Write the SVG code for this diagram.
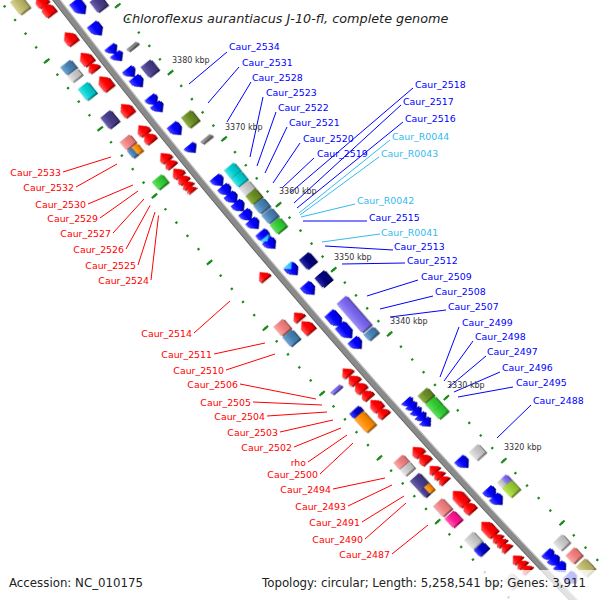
<svg xmlns="http://www.w3.org/2000/svg" width="600" height="600" viewBox="0 0 600 600">
<style>
text{font-family:"DejaVu Sans","Liberation Sans",sans-serif}
.lr{font-size:9.4px;fill:#f00;text-anchor:end}
.lb{font-size:9.4px;fill:#00f}
.lc{font-size:9.4px;fill:#33bbee}
.kb{font-size:8px;fill:#333}
.cr{stroke:#f00;stroke-width:1;fill:none}
.cb{stroke:#00f;stroke-width:1;fill:none}
.cc{stroke:#33bbee;stroke-width:1;fill:none}
.r{fill:url(#gR)}.b{fill:url(#gB)}.c{fill:url(#gC)}
.kh{fill:url(#gKH)}.ds{fill:url(#gDS)}.sb{fill:url(#gSB)}.lg{fill:url(#gLG)}.gt{fill:url(#gGT)}
.dt{fill:url(#gDT)}.od{fill:url(#gOD)}.lc2{fill:url(#gLC)}.or{fill:url(#gOR)}.lm{fill:url(#gLM)}
.nv{fill:url(#gNV)}.ms{fill:url(#gMS)}.yg{fill:url(#gYG)}.dp{fill:url(#gDP)}.mb{fill:url(#gMB)}
.tk{fill:none;stroke:#1e8b1e}
.fx{filter:url(#ext)}
</style>
<defs>
<filter id="ext" x="-5%" y="-60%" width="110%" height="220%" color-interpolation-filters="sRGB">
<feColorMatrix in="SourceGraphic" type="matrix" values="0.62 0 0 0 0 0 0.62 0 0 0 0 0 0.62 0 0 0 0 0 1 0" result="d"/>
<feOffset in="d" dx="-1.8" dy="0.5" result="o"/>
<feMerge><feMergeNode in="o"/><feMergeNode in="SourceGraphic"/></feMerge>
</filter>
<linearGradient id="gR" x1="0" y1="0" x2="0" y2="1"><stop offset="0" stop-color="#ff5a5a"/><stop offset=".5" stop-color="#ff0000"/><stop offset="1" stop-color="#e00000"/></linearGradient>
<linearGradient id="gB" x1="0" y1="0" x2="0" y2="1"><stop offset="0" stop-color="#4646ff"/><stop offset=".5" stop-color="#0000ff"/><stop offset="1" stop-color="#0000d8"/></linearGradient>
<linearGradient id="gC" x1="0" y1="0" x2="0" y2="1"><stop offset="0" stop-color="#80e0ff"/><stop offset=".5" stop-color="#33ccff"/><stop offset="1" stop-color="#22b0e0"/></linearGradient>
<linearGradient id="gKH" x1="0" y1="0" x2="0" y2="1"><stop offset="0" stop-color="#d8d296"/><stop offset=".5" stop-color="#bdb76b"/><stop offset="1" stop-color="#a8a25c"/></linearGradient>
<linearGradient id="gDS" x1="0" y1="0" x2="0" y2="1"><stop offset="0" stop-color="#6a60aa"/><stop offset=".5" stop-color="#483d8b"/><stop offset="1" stop-color="#3c3275"/></linearGradient>
<linearGradient id="gSB" x1="0" y1="0" x2="0" y2="1"><stop offset="0" stop-color="#74a4d0"/><stop offset=".5" stop-color="#4682b4"/><stop offset="1" stop-color="#3b6f9a"/></linearGradient>
<linearGradient id="gLG" x1="0" y1="0" x2="0" y2="1"><stop offset="0" stop-color="#e4e4e4"/><stop offset=".5" stop-color="#c8c8c8"/><stop offset="1" stop-color="#b4b4b4"/></linearGradient>
<linearGradient id="gGT" x1="0" y1="0" x2="0" y2="1"><stop offset="0" stop-color="#a0a0a0"/><stop offset=".5" stop-color="#888888"/><stop offset="1" stop-color="#777777"/></linearGradient>
<linearGradient id="gDT" x1="0" y1="0" x2="0" y2="1"><stop offset="0" stop-color="#50e2e4"/><stop offset=".5" stop-color="#00ced1"/><stop offset="1" stop-color="#00b4b7"/></linearGradient>
<linearGradient id="gOD" x1="0" y1="0" x2="0" y2="1"><stop offset="0" stop-color="#8dae46"/><stop offset=".5" stop-color="#6b8e23"/><stop offset="1" stop-color="#5b7a1e"/></linearGradient>
<linearGradient id="gLC" x1="0" y1="0" x2="0" y2="1"><stop offset="0" stop-color="#f6aaaa"/><stop offset=".5" stop-color="#f08080"/><stop offset="1" stop-color="#dc7070"/></linearGradient>
<linearGradient id="gOR" x1="0" y1="0" x2="0" y2="1"><stop offset="0" stop-color="#ffaa48"/><stop offset=".5" stop-color="#ff8c00"/><stop offset="1" stop-color="#e07a00"/></linearGradient>
<linearGradient id="gLM" x1="0" y1="0" x2="0" y2="1"><stop offset="0" stop-color="#66dc66"/><stop offset=".5" stop-color="#32cd32"/><stop offset="1" stop-color="#2ab22a"/></linearGradient>
<linearGradient id="gNV" x1="0" y1="0" x2="0" y2="1"><stop offset="0" stop-color="#2a2aa0"/><stop offset=".5" stop-color="#000080"/><stop offset="1" stop-color="#00006c"/></linearGradient>
<linearGradient id="gMS" x1="0" y1="0" x2="0" y2="1"><stop offset="0" stop-color="#9c8ef2"/><stop offset=".5" stop-color="#7b68ee"/><stop offset="1" stop-color="#6a58d6"/></linearGradient>
<linearGradient id="gYG" x1="0" y1="0" x2="0" y2="1"><stop offset="0" stop-color="#bce564"/><stop offset=".5" stop-color="#9acd32"/><stop offset="1" stop-color="#86b42a"/></linearGradient>
<linearGradient id="gDP" x1="0" y1="0" x2="0" y2="1"><stop offset="0" stop-color="#ff60b0"/><stop offset=".5" stop-color="#ff1493"/><stop offset="1" stop-color="#e0107f"/></linearGradient>
<linearGradient id="gMB" x1="0" y1="0" x2="0" y2="1"><stop offset="0" stop-color="#3c3cff"/><stop offset=".5" stop-color="#0000cd"/><stop offset="1" stop-color="#0000b0"/></linearGradient>
<path id="a4" d="M-2.5,-6L2.5,0L-2.5,6Z"/>
<path id="a5" d="M-3,-6L3,0L-3,6Z"/>
<path id="a6" d="M-3.75,-6H-2.25L3.75,0L-2.25,6H-3.75Z"/>
<path id="a7" d="M-4.25,-6H-1.75L4.25,0L-1.75,6H-4.25Z"/>
<path id="a8" d="M-4.75,-6H-1.25L4.75,0L-1.25,6H-4.75Z"/>
<path id="a9" d="M-5.25,-6H-.75L5.25,0L-.75,6H-5.25Z"/>
<path id="a10" d="M-5.75,-6H-.25L5.75,0L-.25,6H-5.75Z"/>
<path id="a11" d="M-6.25,-6H.25L6.25,0L.25,6H-6.25Z"/>
<path id="a12" d="M-6.75,-6H.75L6.75,0L.75,6H-6.75Z"/>
<path id="a14" d="M-7.75,-6H1.75L7.75,0L1.75,6H-7.75Z"/>
<path id="a15" d="M-8.25,-6H2.25L8.25,0L2.25,6H-8.25Z"/>
<path id="a16" d="M-8.75,-6H2.75L8.75,0L2.75,6H-8.75Z"/>
</defs>
<rect width="600" height="600" fill="#fff"/>
<g id="map" transform="translate(5747,-4380) rotate(229.34)">
<g id="ticks">
<path class="tk" d="M426.08,-7123.27A7136,7136 0 0 0 -426.08,-7123.27" stroke-width="2.4" stroke-dasharray="2.2 14.853" stroke-dashoffset="1.1"/>
<path class="tk" d="M426.08,-7123.27A7136,7136 0 0 0 -426.08,-7123.27" stroke-width="7" stroke-dasharray="2.2 83.065" stroke-dashoffset="1.1"/>
<path class="tk" d="M431.45,-7213.11A7226,7226 0 0 0 -431.45,-7213.11" stroke-width="2.4" stroke-dasharray="2.2 15.068" stroke-dashoffset="1.1"/>
<path class="tk" d="M431.45,-7213.11A7226,7226 0 0 0 -431.45,-7213.11" stroke-width="7" stroke-dasharray="2.2 84.140" stroke-dashoffset="1.1"/>
</g>
<g id="backbone" fill="none">
<path d="M428.76,-7168.19A7181,7181 0 0 0 -428.76,-7168.19" stroke="#8a8a8a" stroke-width="6"/>
<path d="M428.94,-7171.18A7184,7184 0 0 0 -428.94,-7171.18" stroke="#6a6a6a" stroke-width="1"/>
<path d="M428.58,-7165.19A7178,7178 0 0 0 -428.58,-7165.19" stroke="#c4c4c4" stroke-width="1.2"/>
</g>
<g id="fwd-cds" class="fx">
<use href="#a10" class="r" transform="rotate(3.151)translate(0,-7194)"/>
<use href="#a12" class="r" transform="rotate(3.064)translate(0,-7194)"/>
<use href="#a12" class="r" transform="rotate(2.776)translate(0,-7194)"/>
<use href="#a12" class="r" transform="rotate(2.569)translate(0,-7194)"/>
<use href="#a7" class="r" transform="rotate(2.481)translate(0,-7194)"/>
<use href="#a14" class="r" transform="rotate(2.322)translate(0,-7194)"/>
<use href="#a12" class="r" transform="rotate(2.050)translate(0,-7194)"/>
<use href="#a9" class="r" transform="rotate(1.843)translate(0,-7194)"/>
<use href="#a9" class="r" transform="rotate(1.763)translate(0,-7194)"/>
<use href="#a8" class="r" transform="rotate(1.564)translate(0,-7194)"/>
<use href="#a7" class="r" transform="rotate(1.500)translate(0,-7194)"/>
<use href="#a8" class="r" transform="rotate(1.404)translate(0,-7194)"/>
<use href="#a7" class="r" transform="rotate(1.340)translate(0,-7194)"/>
<use href="#a6" class="r" transform="rotate(1.284)translate(0,-7194)"/>
<use href="#a5" class="r" transform="rotate(1.237)translate(0,-7194)"/>
<use href="#a7" class="r" transform="rotate(0.335)translate(0,-7194)"/>
<use href="#a7" class="r" transform="rotate(-0.088)translate(0,-7194)"/>
<use href="#a12" class="r" transform="rotate(-0.199)translate(0,-7194)"/>
<use href="#a7" class="r" transform="rotate(-0.678)translate(0,-7194)"/>
<use href="#a8" class="r" transform="rotate(-0.758)translate(0,-7194)"/>
<use href="#a9" class="r" transform="rotate(-0.838)translate(0,-7194)"/>
<use href="#a8" class="r" transform="rotate(-0.917)translate(0,-7194)"/>
<use href="#a11" class="r" transform="rotate(-1.029)translate(0,-7194)"/>
<use href="#a8" class="r" transform="rotate(-1.109)translate(0,-7194)"/>
<use href="#a9" class="r" transform="rotate(-1.524)translate(0,-7194)"/>
<use href="#a9" class="r" transform="rotate(-1.604)translate(0,-7194)"/>
<use href="#a6" class="r" transform="rotate(-1.715)translate(0,-7194)"/>
<use href="#a6" class="r" transform="rotate(-1.771)translate(0,-7194)"/>
<use href="#a6" class="r" transform="rotate(-1.827)translate(0,-7194)"/>
<use href="#a16" class="r" transform="rotate(-2.026)translate(0,-7194)"/>
<use href="#a10" class="r" transform="rotate(-2.130)translate(0,-7194)"/>
<use href="#a16" class="r" transform="rotate(-2.361)translate(0,-7194)"/>
<use href="#a6" class="r" transform="rotate(-2.457)translate(0,-7194)"/>
<use href="#a6" class="r" transform="rotate(-2.505)translate(0,-7194)"/>
<use href="#a6" class="r" transform="rotate(-2.561)translate(0,-7194)"/>
<use href="#a6" class="r" transform="rotate(-2.689)translate(0,-7194)"/>
<use href="#a6" class="r" transform="rotate(-2.744)translate(0,-7194)"/>
<use href="#a6" class="r" transform="rotate(-2.800)translate(0,-7194)"/>
</g>
<g id="rev-cds" class="fx">
<use href="#a14" class="b" transform="rotate(2.920)translate(0,-7168)scale(-1,1)"/>
<use href="#a12" class="b" transform="rotate(2.697)translate(0,-7168)scale(-1,1)"/>
<use href="#a7" class="b" transform="rotate(2.489)translate(0,-7168)scale(-1,1)"/>
<use href="#a7" class="b" transform="rotate(2.417)translate(0,-7168)scale(-1,1)"/>
<use href="#a8" class="b" transform="rotate(2.258)translate(0,-7168)scale(-1,1)"/>
<use href="#a10" class="b" transform="rotate(2.162)translate(0,-7168)scale(-1,1)"/>
<use href="#a8" class="b" transform="rotate(1.971)translate(0,-7168)scale(-1,1)"/>
<use href="#a8" class="b" transform="rotate(1.899)translate(0,-7168)scale(-1,1)"/>
<use href="#a11" class="b" transform="rotate(1.675)translate(0,-7168)scale(-1,1)"/>
<use href="#a7" class="b" transform="rotate(1.476)translate(0,-7168)scale(-1,1)"/>
<use href="#a9" class="b" transform="rotate(1.141)translate(0,-7168)scale(-1,1)"/>
<use href="#a9" class="b" transform="rotate(1.045)translate(0,-7168)scale(-1,1)"/>
<use href="#a9" class="b" transform="rotate(0.965)translate(0,-7168)scale(-1,1)"/>
<use href="#a9" class="b" transform="rotate(0.878)translate(0,-7168)scale(-1,1)"/>
<use href="#a9" class="b" transform="rotate(0.782)translate(0,-7168)scale(-1,1)"/>
<use href="#a9" class="b" transform="rotate(0.694)translate(0,-7168)scale(-1,1)"/>
<use href="#a10" class="b" transform="rotate(0.566)translate(0,-7168)scale(-1,1)"/>
<use href="#a9" class="b" transform="rotate(0.487)translate(0,-7168)scale(-1,1)"/>
<use href="#a4" class="c" transform="rotate(0.535)translate(0,-7168)scale(-1,1)"/>
<use href="#a10" class="b" transform="rotate(0.215)translate(0,-7168)scale(-1,1)"/>
<use href="#a5" class="c" transform="rotate(0.247)translate(0,-7168)scale(-1,1)"/>
<use href="#a11" class="b" transform="rotate(0.012)translate(0,-7168)scale(-1,1)"/>
<use href="#a15" class="b" transform="rotate(-0.303)translate(0,-7168)scale(-1,1)"/>
<use href="#a15" class="b" transform="rotate(-0.431)translate(0,-7168)scale(-1,1)"/>
<use href="#a10" class="b" transform="rotate(-0.566)translate(0,-7168)scale(-1,1)"/>
<use href="#a6" class="b" transform="rotate(-1.197)translate(0,-7168)scale(-1,1)"/>
<use href="#a6" class="b" transform="rotate(-1.245)translate(0,-7168)scale(-1,1)"/>
<use href="#a6" class="b" transform="rotate(-1.300)translate(0,-7168)scale(-1,1)"/>
<use href="#a6" class="b" transform="rotate(-1.356)translate(0,-7168)scale(-1,1)"/>
<use href="#a6" class="b" transform="rotate(-1.412)translate(0,-7168)scale(-1,1)"/>
<use href="#a10" class="b" transform="rotate(-1.843)translate(0,-7168)scale(-1,1)"/>
<use href="#a9" class="b" transform="rotate(-2.170)translate(0,-7168)scale(-1,1)"/>
<use href="#a9" class="b" transform="rotate(-2.250)translate(0,-7168)scale(-1,1)"/>
<use href="#a8" class="b" transform="rotate(-2.856)translate(0,-7168)scale(-1,1)"/>
<use href="#a8" class="b" transform="rotate(-2.920)translate(0,-7168)scale(-1,1)"/>
<use href="#a8" class="b" transform="rotate(-2.992)translate(0,-7168)scale(-1,1)"/>
<use href="#a10" class="b" transform="rotate(-3.111)translate(0,-7168)scale(-1,1)"/>
</g>
<g id="cog-inner" class="fx">
<rect class="ds" x="-6.5" y="-6.25" width="13" height="12.5" transform="rotate(2.848)translate(0,-7150)"/>
<rect class="gt" x="-1.5" y="-6.25" width="3" height="12.5" transform="rotate(2.409)translate(0,-7150)"/>
<rect class="ds" x="-6.5" y="-6.25" width="13" height="12.5" transform="rotate(2.186)translate(0,-7150)"/>
<rect class="od" x="-6.5" y="-6.25" width="13" height="12.5" transform="rotate(1.667)translate(0,-7150)"/>
<rect class="gt" x="-1.5" y="-6.25" width="3" height="12.5" transform="rotate(1.460)translate(0,-7150)"/>
<rect class="dt" x="-5.25" y="-6.25" width="10.5" height="12.5" transform="rotate(1.133)translate(0,-7150)"/>
<rect class="dt" x="-5.25" y="-6.25" width="10.5" height="12.5" transform="rotate(1.045)translate(0,-7150)"/>
<rect class="lg" x="-5.25" y="-6.25" width="10.5" height="12.5" transform="rotate(0.949)translate(0,-7150)"/>
<rect class="od" x="-5.25" y="-6.25" width="10.5" height="12.5" transform="rotate(0.862)translate(0,-7150)"/>
<rect class="sb" x="-5.25" y="-6.25" width="10.5" height="12.5" transform="rotate(0.766)translate(0,-7150)"/>
<rect class="sb" x="-5.25" y="-6.25" width="10.5" height="12.5" transform="rotate(0.662)translate(0,-7150)"/>
<rect class="lm" x="-5.5" y="-6.25" width="11" height="12.5" transform="rotate(0.558)translate(0,-7150)"/>
<rect class="nv" x="-6" y="-6.25" width="12" height="12.5" transform="rotate(0.191)translate(0,-7150)"/>
<rect class="nv" x="-6" y="-6.25" width="12" height="12.5" transform="rotate(0)translate(0,-7150)"/>
<rect class="ms" x="-19" y="-6.25" width="38" height="12.5" transform="rotate(-0.375)translate(0,-7150)"/>
<rect class="sb" x="-4" y="-6.25" width="8" height="12.5" transform="rotate(-0.582)translate(0,-7150)"/>
<rect class="od" x="-5" y="-6.25" width="10" height="12.5" transform="rotate(-1.245)translate(0,-7150)"/>
<rect class="lm" x="-5.5" y="-6.25" width="11" height="12.5" transform="rotate(-1.340)translate(0,-7150)"/>
<rect class="lm" x="-4.5" y="-6.25" width="9" height="12.5" transform="rotate(-1.420)translate(0,-7150)"/>
<rect class="lg" x="-5.5" y="-6.25" width="11" height="12.5" transform="rotate(-1.859)translate(0,-7150)"/>
<rect class="lg" x="-4" y="-6.25" width="8" height="6.25" transform="rotate(-2.178)translate(0,-7150)"/>
<rect class="ms" x="-4" y="0" width="8" height="6.25" transform="rotate(-2.178)translate(0,-7150)"/>
<rect class="yg" x="-6" y="-6.25" width="12" height="12.5" transform="rotate(-2.258)translate(0,-7150)"/>
<rect class="lg" x="-5.5" y="-6.25" width="11" height="12.5" transform="rotate(-2.848)translate(0,-7150)"/>
<rect class="lc2" x="-5.5" y="-6.25" width="11" height="12.5" transform="rotate(-2.992)translate(0,-7150)"/>
<rect class="kh" x="-7" y="-6.25" width="14" height="12.5" transform="rotate(-3.127)translate(0,-7150)"/>
</g>
<g id="cog-outer" class="fx">
<rect class="kh" x="-8" y="-6.25" width="16" height="12.5" transform="rotate(3.223)translate(0,-7213)"/>
<rect class="sb" x="-5" y="-6.25" width="10" height="12.5" transform="rotate(2.593)translate(0,-7213)"/>
<rect class="lg" x="-4" y="-6.25" width="8" height="12.5" transform="rotate(2.513)translate(0,-7213)"/>
<rect class="dt" x="-7" y="-6.25" width="14" height="12.5" transform="rotate(2.354)translate(0,-7213)"/>
<rect class="ds" x="-7" y="-6.25" width="14" height="12.5" transform="rotate(2.066)translate(0,-7213)"/>
<rect class="lc2" x="-5" y="-6.25" width="10" height="12.5" transform="rotate(1.835)translate(0,-7213)"/>
<rect class="sb" x="-4.5" y="-6.25" width="9" height="6.25" transform="rotate(1.747)translate(0,-7213)"/>
<rect class="or" x="-4.5" y="0" width="9" height="6.25" transform="rotate(1.747)translate(0,-7213)"/>
<rect class="lm" x="-5" y="-6.25" width="10" height="12.5" transform="rotate(1.428)translate(0,-7213)"/>
<rect class="lc2" x="-6" y="-6.25" width="12" height="12.5" transform="rotate(-0.080)translate(0,-7213)"/>
<rect class="sb" x="-6" y="-6.25" width="12" height="12.5" transform="rotate(-0.191)translate(0,-7213)"/>
<rect class="ms" x="-1.5" y="-6.25" width="3" height="12.5" transform="rotate(-0.734)translate(0,-7213)"/>
<rect class="mb" x="-3" y="-6.25" width="6" height="12.5" transform="rotate(-0.973)translate(0,-7213)"/>
<rect class="or" x="-9" y="-6.25" width="18" height="12.5" transform="rotate(-1.077)translate(0,-7213)"/>
<rect class="lc2" x="-4.5" y="-6.25" width="9" height="12.5" transform="rotate(-1.508)translate(0,-7213)"/>
<rect class="lg" x="-4" y="-6.25" width="8" height="12.5" transform="rotate(-1.580)translate(0,-7213)"/>
<rect class="ds" x="-7" y="-6.25" width="14" height="12.5" transform="rotate(-1.723)translate(0,-7213)"/>
<rect class="ds" x="-4" y="-6.25" width="8" height="6.25" transform="rotate(-1.811)translate(0,-7213)"/>
<rect class="or" x="-4" y="0" width="8" height="6.25" transform="rotate(-1.811)translate(0,-7213)"/>
<rect class="lc2" x="-7" y="-6.25" width="14" height="12.5" transform="rotate(-1.995)translate(0,-7213)"/>
<rect class="dp" x="-6" y="-6.25" width="12" height="12.5" transform="rotate(-2.122)translate(0,-7213)"/>
<rect class="lg" x="-6.5" y="-6.25" width="13" height="12.5" transform="rotate(-2.354)translate(0,-7213)"/>
<rect class="mb" x="-4" y="-6.25" width="8" height="12.5" transform="rotate(-2.449)translate(0,-7213)"/>
<rect class="lg" x="-6" y="-6.25" width="12" height="12.5" transform="rotate(-2.800)translate(0,-7213)"/>
</g>
</g>
<g id="connectors">
<path class="cr" d="M63,172L111,157M76,187L117,164M88,204L133,185M100,218L138,191M113,233L144,199M126,249L150,205.5M138,265L155,212M151,280L158.5,215.5M194,333L230,301M214,354L265,343M226,370L275,354M240,384L316,399M253,402L322,405M267,416L327,412M280,432L333,420M294,447L341,428M308,462L347,435M320,474L353,443M333,489L385,478M348,506L392,485M362,522L404,496M365,539L406,503M392,554L428,525"/>
<path class="cb" d="M227,52L189,84M239,67L208,103M251,82L227,122M263,97L250,157M276,112L257,166M287,127L265,173M300,143L273,183M314,158L282,188M413,88L290,193M401,105L294,203M403,122L297,208M367,221L303,221M393,250L325,246M405,263L342,264M418,280L367,296M433,296L380,309M446,310L390,317M459,327L440,377M473,341L444,381M486,356L449,387M500,372L454,392M513,387L458,397M531,405L497,438"/>
<path class="cc" d="M390,140L299,213M379,157L300,215M355,204L301,217M380,234L322,242"/>
</g>
<g id="labels">
<text class="lr" x="61" y="175.5">Caur_2533</text>
<text class="lr" x="74" y="190.5">Caur_2532</text>
<text class="lr" x="86" y="207.5">Caur_2530</text>
<text class="lr" x="98" y="221.5">Caur_2529</text>
<text class="lr" x="111" y="236.5">Caur_2527</text>
<text class="lr" x="124" y="252.5">Caur_2526</text>
<text class="lr" x="136" y="268.5">Caur_2525</text>
<text class="lr" x="149" y="283.5">Caur_2524</text>
<text class="lr" x="192" y="336.5">Caur_2514</text>
<text class="lr" x="212" y="357.5">Caur_2511</text>
<text class="lr" x="224" y="373.5">Caur_2510</text>
<text class="lr" x="238" y="387.5">Caur_2506</text>
<text class="lr" x="251" y="405.5">Caur_2505</text>
<text class="lr" x="265" y="419.5">Caur_2504</text>
<text class="lr" x="278" y="435.5">Caur_2503</text>
<text class="lr" x="292" y="450.5">Caur_2502</text>
<text class="lr" x="306" y="465.5">rho</text>
<text class="lr" x="318" y="477.5">Caur_2500</text>
<text class="lr" x="331" y="492.5">Caur_2494</text>
<text class="lr" x="346" y="509.5">Caur_2493</text>
<text class="lr" x="360" y="525.5">Caur_2491</text>
<text class="lr" x="363" y="542.5">Caur_2490</text>
<text class="lr" x="390" y="557.5">Caur_2487</text>
<text class="lb" x="229" y="50">Caur_2534</text>
<text class="lb" x="242" y="66">Caur_2531</text>
<text class="lb" x="252" y="81">Caur_2528</text>
<text class="lb" x="266" y="96">Caur_2523</text>
<text class="lb" x="278" y="111">Caur_2522</text>
<text class="lb" x="289" y="126">Caur_2521</text>
<text class="lb" x="303" y="142">Caur_2520</text>
<text class="lb" x="317" y="157">Caur_2519</text>
<text class="lb" x="415" y="88">Caur_2518</text>
<text class="lb" x="403" y="105">Caur_2517</text>
<text class="lb" x="405" y="122">Caur_2516</text>
<text class="lc" x="392" y="140">Caur_R0044</text>
<text class="lc" x="381" y="157">Caur_R0043</text>
<text class="lc" x="357" y="204">Caur_R0042</text>
<text class="lb" x="369" y="221">Caur_2515</text>
<text class="lc" x="381" y="236">Caur_R0041</text>
<text class="lb" x="394" y="250">Caur_2513</text>
<text class="lb" x="407" y="264">Caur_2512</text>
<text class="lb" x="421" y="280">Caur_2509</text>
<text class="lb" x="435" y="295">Caur_2508</text>
<text class="lb" x="448" y="310">Caur_2507</text>
<text class="lb" x="462" y="326">Caur_2499</text>
<text class="lb" x="475" y="340">Caur_2498</text>
<text class="lb" x="487" y="355">Caur_2497</text>
<text class="lb" x="502" y="371">Caur_2496</text>
<text class="lb" x="516" y="386">Caur_2495</text>
<text class="lb" x="533" y="404">Caur_2488</text>
</g>
<g id="scale-labels">
<text class="kb" x="172" y="63">3380 kbp</text>
<text class="kb" x="225" y="130">3370 kbp</text>
<text class="kb" x="279" y="194">3360 kbp</text>
<text class="kb" x="334" y="260">3350 kbp</text>
<text class="kb" x="390" y="324">3340 kbp</text>
<text class="kb" x="447" y="388">3330 kbp</text>
<text class="kb" x="504" y="450">3320 kbp</text>
</g>
<rect x="257" y="570" width="343" height="30" fill="#fff" fill-opacity="0.75"/>
<g id="titles" fill="#222">
<text x="123" y="23" font-size="12.8" font-style="italic">Chloroflexus aurantiacus J-10-fl, complete genome</text>
<text x="9" y="587" font-size="11.8">Accession: NC_010175</text>
<text x="262" y="587" font-size="11.8">Topology: circular; Length: 5,258,541 bp; Genes: 3,911</text>
</g>
</svg>
